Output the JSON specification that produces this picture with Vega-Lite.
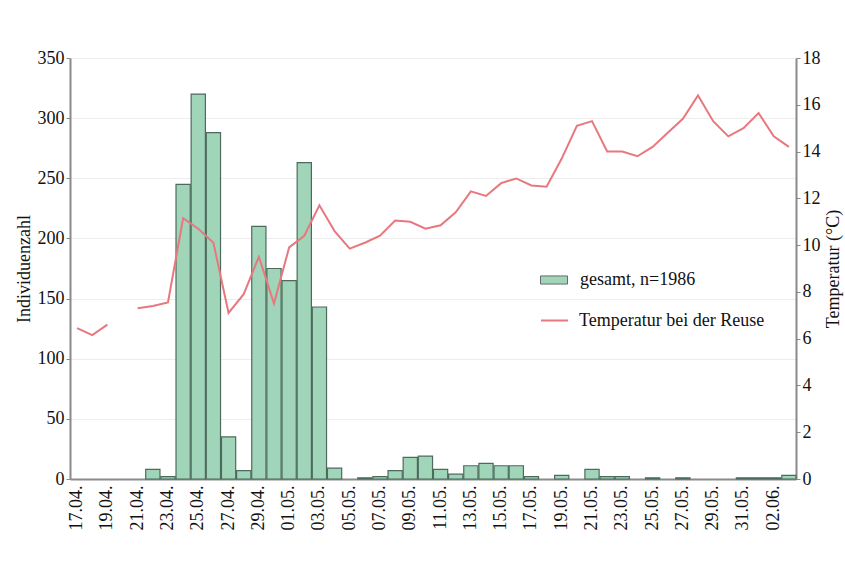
{
  "$schema": "https://vega.github.io/schema/vega-lite/v6.json",
  "width": 726,
  "height": 421,
  "autosize": {"type": "none"},
  "padding": {"left": 70, "top": 58, "right": 49, "bottom": 83},
  "background": "white",
  "config": {
    "font": "Liberation Serif",
    "view": {"stroke": null},
    "axis": {"labelFont": "Liberation Serif", "titleFont": "Liberation Serif", "labelColor": "#111", "titleColor": "#111", "titleFontWeight": "normal"},
    "legend": {"labelFont": "Liberation Serif", "labelColor": "#111", "labelLimit": 400}
  },
  "data": {"values": [
    {"d": "17.04.", "n": 0, "t": 6.45},
    {"d": "18.04.", "n": 0, "t": 6.15},
    {"d": "19.04.", "n": 0, "t": 6.6},
    {"d": "20.04.", "n": 0, "t": null},
    {"d": "21.04.", "n": 0, "t": 7.3},
    {"d": "22.04.", "n": 8, "t": 7.4},
    {"d": "23.04.", "n": 2, "t": 7.55},
    {"d": "24.04.", "n": 245, "t": 11.15},
    {"d": "25.04.", "n": 320, "t": 10.7},
    {"d": "26.04.", "n": 288, "t": 10.1},
    {"d": "27.04.", "n": 35, "t": 7.1},
    {"d": "28.04.", "n": 7, "t": 7.9},
    {"d": "29.04.", "n": 210, "t": 9.5},
    {"d": "30.04.", "n": 175, "t": 7.5},
    {"d": "01.05.", "n": 165, "t": 9.9},
    {"d": "02.05.", "n": 263, "t": 10.4},
    {"d": "03.05.", "n": 143, "t": 11.7},
    {"d": "04.05.", "n": 9, "t": 10.6},
    {"d": "05.05.", "n": 0, "t": 9.85},
    {"d": "06.05.", "n": 1, "t": 10.1},
    {"d": "07.05.", "n": 2, "t": 10.4},
    {"d": "08.05.", "n": 7, "t": 11.05},
    {"d": "09.05.", "n": 18, "t": 11.0},
    {"d": "10.05.", "n": 19, "t": 10.7},
    {"d": "11.05.", "n": 8, "t": 10.85},
    {"d": "12.05.", "n": 4, "t": 11.4},
    {"d": "13.05.", "n": 11, "t": 12.3},
    {"d": "14.05.", "n": 13, "t": 12.1},
    {"d": "15.05.", "n": 11, "t": 12.65},
    {"d": "16.05.", "n": 11, "t": 12.85},
    {"d": "17.05.", "n": 2, "t": 12.55},
    {"d": "18.05.", "n": 0, "t": 12.5},
    {"d": "19.05.", "n": 3, "t": 13.7},
    {"d": "20.05.", "n": 0, "t": 15.1},
    {"d": "21.05.", "n": 8, "t": 15.3},
    {"d": "22.05.", "n": 2, "t": 14.0},
    {"d": "23.05.", "n": 2, "t": 14.0},
    {"d": "24.05.", "n": 0, "t": 13.8},
    {"d": "25.05.", "n": 1, "t": 14.2},
    {"d": "26.05.", "n": 0, "t": 14.8},
    {"d": "27.05.", "n": 1, "t": 15.4},
    {"d": "28.05.", "n": 0, "t": 16.4},
    {"d": "29.05.", "n": 0, "t": 15.3},
    {"d": "30.05.", "n": 0, "t": 14.65},
    {"d": "31.05.", "n": 1, "t": 15.0},
    {"d": "01.06.", "n": 1, "t": 15.65},
    {"d": "02.06.", "n": 1, "t": 14.65},
    {"d": "03.06.", "n": 3, "t": 14.2}
  ]},
  "encoding": {
    "x": {
      "field": "d", "type": "ordinal", "sort": null,
      "scale": {
        "paddingInner": 0.06, "paddingOuter": 0,
        "domain": ["17.04.", "18.04.", "19.04.", "20.04.", "21.04.", "22.04.", "23.04.", "24.04.", "25.04.", "26.04.", "27.04.", "28.04.", "29.04.", "30.04.", "01.05.", "02.05.", "03.05.", "04.05.", "05.05.", "06.05.", "07.05.", "08.05.", "09.05.", "10.05.", "11.05.", "12.05.", "13.05.", "14.05.", "15.05.", "16.05.", "17.05.", "18.05.", "19.05.", "20.05.", "21.05.", "22.05.", "23.05.", "24.05.", "25.05.", "26.05.", "27.05.", "28.05.", "29.05.", "30.05.", "31.05.", "01.06.", "02.06.", "03.06."]
      },
      "axis": {
        "title": null, "labelAngle": -90, "labelFontSize": 18, "labelPadding": 6,
        "ticks": false, "domainColor": "#8a8a8a", "domainWidth": 2,
        "values": ["17.04.", "19.04.", "21.04.", "23.04.", "25.04.", "27.04.", "29.04.", "01.05.", "03.05.", "05.05.", "07.05.", "09.05.", "11.05.", "13.05.", "15.05.", "17.05.", "19.05.", "21.05.", "23.05.", "25.05.", "27.05.", "29.05.", "31.05.", "02.06."]
      }
    }
  },
  "layer": [
    {
      "transform": [{"filter": "datum.n > 0"}],
      "mark": {"type": "bar", "stroke": "#4d6b5c", "strokeWidth": 1.2},
      "encoding": {
        "y": {
          "field": "n", "type": "quantitative",
          "scale": {"domain": [0, 350]},
          "axis": {
            "title": "Individuenzahl", "titleFontSize": 18, "titlePadding": 4,
            "values": [0, 50, 100, 150, 200, 250, 300, 350],
            "labelFontSize": 18, "tickSize": 4, "tickColor": "#8a8a8a",
            "domainColor": "#8a8a8a", "domainWidth": 2,
            "grid": true, "gridColor": "#ededed"
          }
        },
        "fill": {
          "datum": "gesamt, n=1986",
          "scale": {"range": ["#a0d5ba"]},
          "legend": {
            "title": null, "orient": "none", "legendX": 470, "legendY": 208,
            "labelFontSize": 18, "labelOffset": 12,
            "symbolType": "M-1,-0.3H1V0.3H-1Z", "symbolSize": 729,
            "symbolStrokeColor": "#666", "symbolStrokeWidth": 1,
            "encode": {"symbols": {"update": {"fill": {"value": "#a8a8a8"}, "stroke": {"value": "#6a6a6a"}}}}
          }
        }
      }
    },
    {
      "mark": {"type": "line", "strokeWidth": 2, "interpolate": "linear", "invalid": "break-paths-show-domains"},
      "encoding": {
        "y": {
          "field": "t", "type": "quantitative",
          "scale": {"domain": [0, 18]},
          "axis": {
            "orient": "right", "title": "Temperatur (°C)", "titleFontSize": 18,
            "titleAngle": 270, "titlePadding": 22,
            "values": [0, 2, 4, 6, 8, 10, 12, 14, 16, 18],
            "labelFontSize": 18, "tickSize": 4, "tickColor": "#8a8a8a",
            "domainColor": "#8a8a8a", "domainWidth": 2, "grid": false
          }
        },
        "stroke": {
          "datum": "Temperatur bei der Reuse",
          "scale": {"range": ["#e8777e"]},
          "legend": {
            "title": null, "orient": "none", "legendX": 470, "legendY": 248,
            "labelFontSize": 18, "labelOffset": 10,
            "symbolType": "stroke", "symbolSize": 729, "symbolStrokeWidth": 2
          }
        }
      }
    }
  ],
  "resolve": {"scale": {"y": "independent", "fill": "independent", "stroke": "independent"}}
}
